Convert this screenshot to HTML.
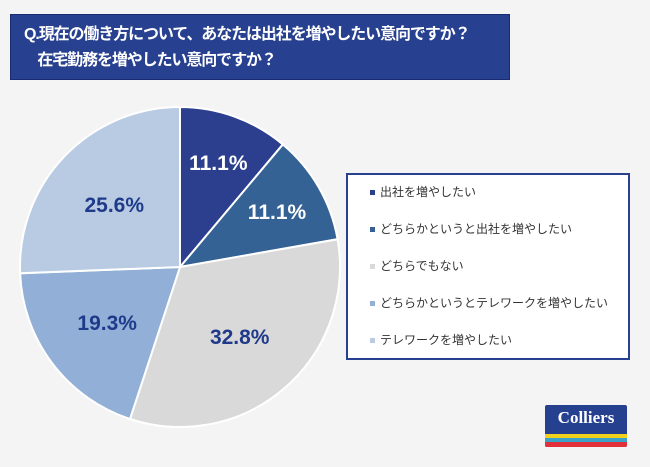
<!DOCTYPE html>
<html><head><meta charset="utf-8">
<style>
body{margin:0;width:650px;height:467px;background:#f4f4f4;font-family:"Liberation Sans","Noto Sans CJK JP",sans-serif;position:relative;overflow:hidden}
#title{position:absolute;left:10px;top:14px;width:500px;height:66px;background:#27408f;border:1px solid #1a2c70;box-sizing:border-box;color:#fff;font-weight:bold;font-size:16px;line-height:26px;padding:7px 0 0 13px;white-space:nowrap;letter-spacing:-1.1px}
#legend{position:absolute;left:346px;top:173px;width:284px;height:187px;background:#fff;border:2px solid #27408f;box-sizing:border-box}
.li{position:absolute;left:22px;font-size:12px;color:#333;height:16px;line-height:16px}
.li i{display:inline-block;width:5px;height:5px;margin-right:5px;vertical-align:middle}
#logo{position:absolute;left:545px;top:405px;width:82px;height:42px;background:#25408f;border-radius:2px;overflow:hidden}
#logo span{position:absolute;left:0;right:0;top:3px;text-align:center;color:#fff;font-family:"Liberation Serif",serif;font-weight:bold;font-size:17px}
</style></head><body>
<div id="title">Q.現在の働き方について、あなたは出社を増やしたい意向ですか？<br>&nbsp;&nbsp;&nbsp;&nbsp;在宅勤務を増やしたい意向ですか？</div>
<svg id="pie" width="650" height="467" style="position:absolute;left:0;top:0"></svg>
<div id="legend"></div>
<div id="logo"><span>Colliers</span>
<div style="position:absolute;left:0;right:0;top:29px;height:4px;background:#f1d11c"></div>
<div style="position:absolute;left:0;right:0;top:33px;height:4px;background:#3aa3c9"></div>
<div style="position:absolute;left:0;right:0;top:37px;height:5px;background:#e0303a"></div></div>
<script>
const categories=["出社を増やしたい","どちらかというと出社を増やしたい","どちらでもない","どちらかというとテレワークを増やしたい","テレワークを増やしたい"];
const values=[11.1,11.1,32.8,19.3,25.6];
const colors=["#2b3f8e","#346294","#d9d9d9","#92b0d7","#b8cbe3"];
const labelColors=["#fff","#fff","#1f3a8a","#1f3a8a","#1f3a8a"];
const svg=document.getElementById('pie'),NS="http://www.w3.org/2000/svg";
const cx=180,cy=267,r=160,total=values.reduce((a,b)=>a+b,0);
let a0=-Math.PI/2;
values.forEach((v,i)=>{
 const a1=a0+v/total*2*Math.PI;
 const p=document.createElementNS(NS,'path');
 const large=(a1-a0)>Math.PI?1:0;
 p.setAttribute('d',`M${cx},${cy}L${cx+r*Math.cos(a0)},${cy+r*Math.sin(a0)}A${r},${r} 0 ${large} 1 ${cx+r*Math.cos(a1)},${cy+r*Math.sin(a1)}Z`);
 p.setAttribute('fill',colors[i]);p.setAttribute('stroke','#fff');p.setAttribute('stroke-width','2');
 
 
 svg.appendChild(p);
 const am=(a0+a1)/2,lr=r*(v/total<0.15?0.7:0.57);
 const t=document.createElementNS(NS,'text');
 t.setAttribute('x',cx+lr*Math.cos(am));t.setAttribute('y',cy+lr*Math.sin(am)+8);
 t.setAttribute('text-anchor','middle');t.setAttribute('font-size','21');t.setAttribute('font-weight','bold');
 t.setAttribute('fill',labelColors[i]);t.setAttribute('font-family','Liberation Sans, sans-serif');
 t.textContent=v.toFixed(1)+'%';
 
 
 svg.appendChild(t);
 a0=a1;
});
const lg=document.getElementById('legend');
categories.forEach((c,i)=>{
 const d=document.createElement('div');d.className='li';d.style.top=(9+i*37)+'px';
 d.innerHTML=`<i style="background:${colors[i]}"></i>${c}`;
 
 
 lg.appendChild(d);
});
</script>
</body></html>
